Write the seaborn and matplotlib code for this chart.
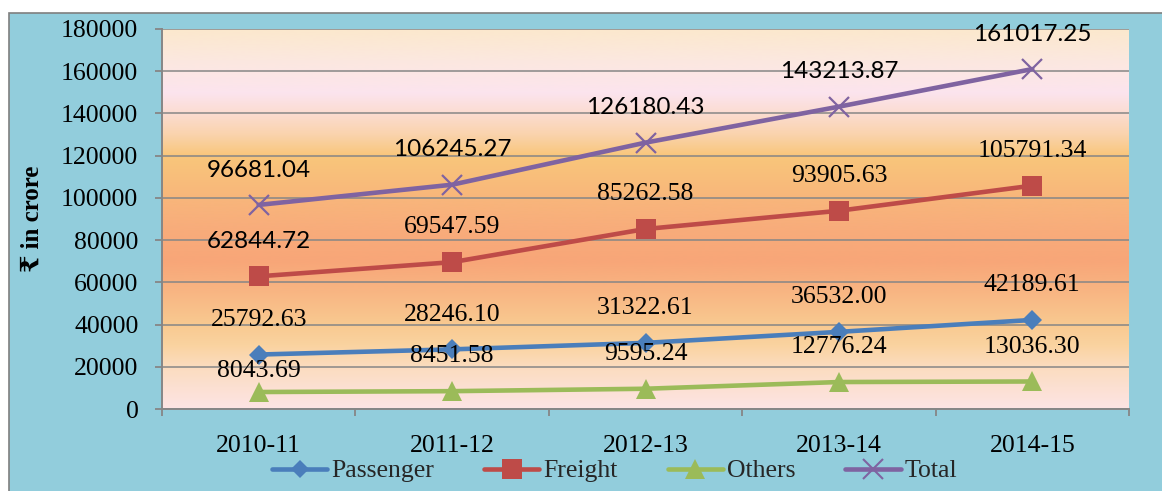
import numpy as np
import pandas as pd
import matplotlib
matplotlib.use("Agg")
import matplotlib.pyplot as plt
import seaborn as sns
from matplotlib.colors import LinearSegmentedColormap
from matplotlib.patches import Rectangle
from matplotlib.lines import Line2D

# ---------------- data ----------------
categories = ["2010-11", "2011-12", "2012-13", "2013-14", "2014-15"]
passenger = [25792.63, 28246.10, 31322.61, 36532.00, 42189.61]
freight = [62844.72, 69547.59, 85262.58, 93905.63, 105791.34]
others = [8043.69, 8451.58, 9595.24, 12776.24, 13036.30]
total = [96681.04, 106245.27, 126180.43, 143213.87, 161017.25]
series_names = ["Passenger", "Freight", "Others", "Total"]
y_ticks = [0, 20000, 40000, 60000, 80000, 100000, 120000, 140000, 160000, 180000]
y_label = "₹ in crore"

# ---------------- style ----------------
sns.set_theme(style="white")
plt.rcParams["font.family"] = ["Liberation Serif", "DejaVu Serif", "DejaVu Sans"]

colors = {"Passenger": "#4A7EBB", "Freight": "#BE4B48", "Others": "#9BBB59", "Total": "#7F63A1"}
markers = {"Passenger": "D", "Freight": "s", "Others": "^", "Total": "x"}
msizes = {"Passenger": 10.5, "Freight": 14, "Others": 14, "Total": 14}
grid_col = "#868686"

W, H = 1162, 491
fig = plt.figure(figsize=(W / 100, H / 100), dpi=100)
fig.patch.set_facecolor("white")
fig.patches.append(Rectangle((9 / W, -0.01), 1.0, 1.01 - 12.5 / H, transform=fig.transFigure,
                             facecolor="#92CDDC", edgecolor="#7F7F7F", lw=1.2, zorder=-10))

ax = fig.add_axes([162 / W, 1 - 409 / H, (1129 - 162) / W, (409 - 29) / H])
ax.set_facecolor("none")

# gradient background of plot area
stops = [(0, "#FDE4E4"), (10000, "#FCE0D2"), (20000, "#FBDCBE"), (30000, "#FAD3A0"),
         (40000, "#F9C990"), (55000, "#F8B683"), (70000, "#F8A678"), (85000, "#F8AC7B"),
         (100000, "#F8B67B"), (120000, "#F9C67A"), (130000, "#FAD3AC"), (140000, "#FBDCD0"),
         (150000, "#FCE4EE"), (165000, "#FCE8E0"), (180000, "#FBE8CD")]
cmap = LinearSegmentedColormap.from_list("bg", [(v / 180000, c) for v, c in stops])
grad = np.linspace(0, 1, 512).reshape(-1, 1)
ax.imshow(grad, extent=[-0.5, 4.5, 0, 180000], origin="lower", aspect="auto",
          cmap=cmap, zorder=0, interpolation="bicubic")

data = {"Passenger": passenger, "Freight": freight, "Others": others, "Total": total}
for name in series_names:
    df = pd.DataFrame({"cat": categories, "val": data[name]})
    kw = dict(marker=markers[name], markersize=msizes[name])
    if markers[name] == "x":
        kw.update(markeredgewidth=1.6, markeredgecolor=colors[name])
    else:
        kw.update(markeredgewidth=0, markerfacecolor=colors[name])
    sns.lineplot(data=df, x="cat", y="val", ax=ax, color=colors[name], lw=3.3,
                 sort=False, legend=False, zorder=3, **kw)

# data labels
label_raise = {"Passenger": [25] * 5, "Freight": [25] * 5,
               "Others": [15, 25, 25, 25, 25], "Total": [25] * 5}
sans_labels = {("Total", i) for i in range(5)} | {("Freight", 0)}
for name in series_names:
    for i, v in enumerate(data[name]):
        if (name, i) in sans_labels:
            fam, fs = ["Lato", "DejaVu Sans"], 17.5
        else:
            fam, fs = ["Liberation Serif", "DejaVu Serif"], 18.5
        ax.annotate(f"{v:.2f}", (i, v), xytext=(0, label_raise[name][i]),
                    textcoords="offset points", ha="center", va="center",
                    fontsize=fs, family=fam, color="black", zorder=5)

# axes
ax.set_xlim(-0.5, 4.5)
ax.set_ylim(0, 180000)
ax.set_yticks(y_ticks)
ax.set_yticklabels([str(t) for t in y_ticks])
ax.set_xticks(range(len(categories)))
ax.set_xticklabels(categories)
ax.set_xticks(np.arange(-0.5, len(categories), 1.0), minor=True)
ax.set_xlabel("")
ax.set_ylabel("")
ax.set_axisbelow(True)
ax.yaxis.grid(True, color=grid_col, lw=1.1, zorder=1)
ax.xaxis.grid(False)
for s in ["top", "right"]:
    ax.spines[s].set_visible(False)
for s in ["left", "bottom"]:
    ax.spines[s].set_color(grid_col)
    ax.spines[s].set_linewidth(1.4)
    ax.spines[s].set_zorder(2)
ax.tick_params(axis="y", which="major", left=True, length=5, width=1.3, color=grid_col,
               pad=12, labelsize=18.5, labelcolor="black")
ax.tick_params(axis="x", which="major", bottom=True, length=0, pad=19,
               labelsize=18.5, labelcolor="black")
ax.tick_params(axis="x", which="minor", bottom=True, length=5, width=1.3, color=grid_col)

fig.text(32 / W, 1 - 219 / H, y_label, rotation=90, ha="center", va="center",
         fontsize=18, fontweight="bold", color="black")

handles = []
for name in series_names:
    if markers[name] == "x":
        h = Line2D([], [], color=colors[name], lw=3.3, marker="x", markersize=14,
                   markeredgewidth=1.5, markeredgecolor=colors[name])
    else:
        h = Line2D([], [], color=colors[name], lw=3.3, marker=markers[name],
                   markersize=msizes[name] * (0.9 if markers[name] == "D" else 1.0),
                   markeredgewidth=0, markerfacecolor=colors[name])
    handles.append(h)
fig.legend(handles, series_names, loc="center", bbox_to_anchor=(614.5 / W, 1 - 471 / H),
           ncol=4, frameon=False, fontsize=18.5, handlelength=2.15, handletextpad=0.15,
           columnspacing=1.95, borderpad=0, borderaxespad=0)

fig.savefig("out.png", dpi=100)
